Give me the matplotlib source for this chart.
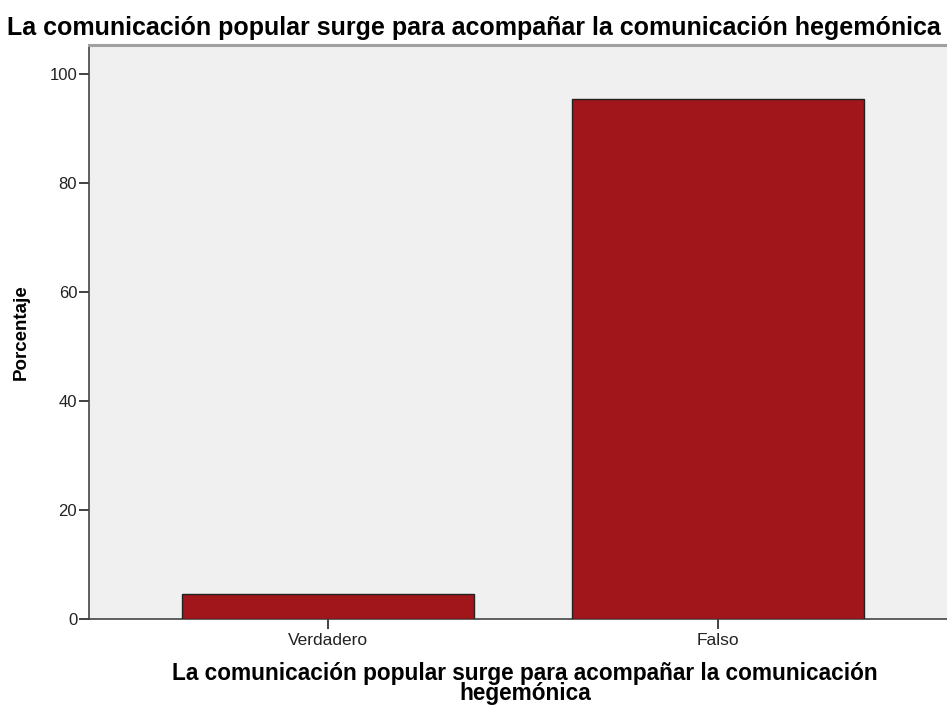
import matplotlib.pyplot as plt

categories = ["Verdadero", "Falso"]
porcentaje = [4.6, 95.4]
yticks = [0, 20, 40, 60, 80, 100]

titulo = "La comunicación popular surge para acompañar la comunicación hegemónica"
xlabel = "La comunicación popular surge para acompañar la comunicación\nhegemónica"

plt.rcParams['font.family'] = ['Liberation Sans', 'DejaVu Sans']

W, H = 947, 705
fig = plt.figure(figsize=(W / 100, H / 100), dpi=100)
ax = fig.add_axes([89 / W, 1 - 619 / H, 1 - 89 / W, (619 - 45) / H])
ax.set_facecolor('#f0f0f0')

x = list(range(len(categories)))
ax.bar(x, porcentaje, width=0.75, color='#a0161a', edgecolor='#222222', linewidth=1.0, zorder=3)

ax.set_xlim(-0.613, 1.587)
ax.set_ylim(0, 105.3)
ax.set_yticks(yticks)
ax.set_xticks(x)
ax.set_xticklabels(categories)
ax.tick_params(axis='both', labelsize=12, colors='#222222', length=7, width=1.2, pad=1.5)
ax.tick_params(axis='x', labelsize=12.5, pad=3)

for side in ['left', 'bottom']:
    ax.spines[side].set_color('#444444')
    ax.spines[side].set_linewidth(1.2)
ax.spines['top'].set_color('#a0a0a0')
ax.spines['top'].set_linewidth(2.2)
ax.spines['right'].set_visible(False)

fig.text(21 / W, 1 - 332 / H, "Porcentaje", rotation=90, ha='center', va='center',
         fontsize=13.5, fontweight='bold')
fig.text(525 / W, 1 - 700 / H, xlabel, ha='center', va='baseline', multialignment='center',
         fontsize=16.3, fontweight='bold', linespacing=0.85)
fig.text(0.5, 1 - 35 / H, titulo, ha='center', va='baseline', fontsize=18, fontweight='bold')

fig.savefig('out.png', dpi=100)
